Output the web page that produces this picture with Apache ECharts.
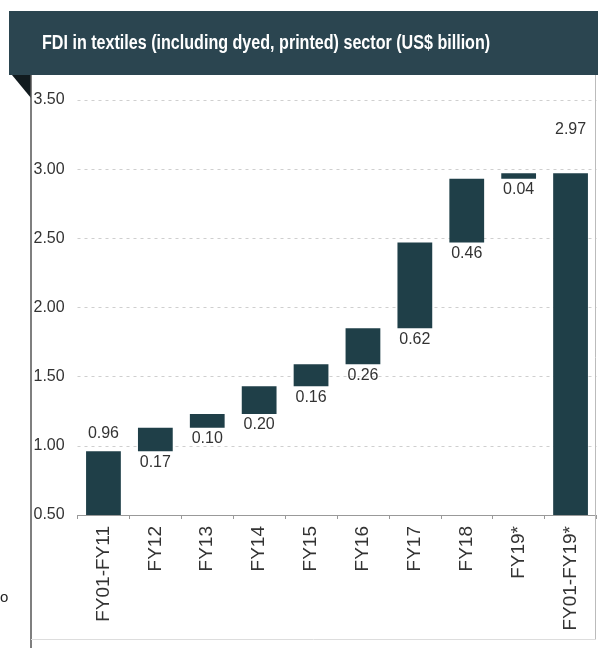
<!DOCTYPE html>
<html>
<head>
<meta charset="utf-8">
<script src="https://cdn.jsdelivr.net/npm/echarts@6/dist/echarts.min.js"></script>
<style>
  html, body { margin: 0; padding: 0; background: #fff; }
  #chart { width: 598px; height: 648px; }
</style>
</head>
<body>
<div id="chart"></div>
<script>
// FDI in textiles, waterfall
var categories = ['FY01-FY11', 'FY12', 'FY13', 'FY14', 'FY15', 'FY16', 'FY17', 'FY18', 'FY19*', 'FY01-FY19*'];
var changes = [0.96, 0.17, 0.10, 0.20, 0.16, 0.26, 0.62, 0.46, 0.04, 2.97];
var isTotal = [true, false, false, false, false, false, false, false, false, true];
var yTicks = [0.5, 1.0, 1.5, 2.0, 2.5, 3.0, 3.5];

var barColor = '#1f3f48';
var font = '"Liberation Sans", Arial';

// running base for the floating bars
var bases = [];
var run = 0;
for (var i = 0; i < changes.length; i++) {
    if (isTotal[i]) {
        bases.push(0);
        run = changes[i];
    } else {
        bases.push(run);
        run = +(run + changes[i]).toFixed(2);
    }
}

var valueData = changes.map(function (v, i) {
    var lbl;
    if (i === 0) {
        lbl = { position: 'top', distance: 10 };
    } else if (i === changes.length - 1) {
        lbl = { position: 'top', distance: 36 };
    } else {
        lbl = { position: 'bottom', distance: 3 };
    }
    return { value: v, label: lbl };
});

var chart = echarts.init(document.getElementById('chart'));
var option = {
    animation: false,
    grid: { left: 77.5, right: 1.5, top: 100, bottom: 133 },
    graphic: [
        { type: 'rect', shape: { x: 9, y: 11, width: 589, height: 64 }, style: { fill: '#2b4550' }, z: 10 },
        { type: 'text', x: 42, y: 43, scaleX: 0.805, z: 11, style: {
            text: 'FDI in textiles (including dyed, printed) sector (US$ billion)',
            fill: '#ffffff', font: 'bold 20px ' + font, textVerticalAlign: 'middle' } },
        { type: 'polygon', shape: { points: [[12, 75], [31, 75], [31, 98]] }, style: { fill: '#111b1f' }, z: 10 },
        { type: 'line', shape: { x1: 31, y1: 75, x2: 31, y2: 648 }, style: { stroke: '#555', lineWidth: 1.5 }, z: 10 },
        { type: 'line', shape: { x1: 595.5, y1: 75, x2: 595.5, y2: 640 }, style: { stroke: '#bbb', lineWidth: 1 }, z: 10 },
        { type: 'line', shape: { x1: 31, y1: 639.5, x2: 596, y2: 639.5 }, style: { stroke: '#ddd', lineWidth: 1 }, z: 10 },
        { type: 'text', x: 0, y: 590, style: { text: 'o', fill: '#222', font: '15px ' + font } }
    ],
    xAxis: {
        type: 'category',
        data: categories,
        axisLine: { lineStyle: { color: '#999', width: 1 } },
        axisTick: { show: true, length: 4, lineStyle: { color: '#999' } },
        axisLabel: {
            rotate: 90, margin: 11, color: '#333', fontSize: 19,
            fontFamily: font, interval: 0
        }
    },
    yAxis: {
        type: 'value',
        min: yTicks[0],
        max: yTicks[yTicks.length - 1],
        interval: 0.5,
        axisLine: { show: false },
        axisTick: { show: false },
        axisLabel: {
            margin: 44, align: 'left', color: '#333', fontSize: 16, fontFamily: font,
            formatter: function (v) { return v.toFixed(2); }
        },
        splitLine: { lineStyle: { color: '#cfcfcf', type: [3, 4], width: 1 } }
    },
    series: [
        {
            type: 'bar', stack: 'w', barWidth: '67%',
            itemStyle: { color: 'transparent' },
            data: bases, silent: true
        },
        {
            type: 'bar', stack: 'w', barWidth: '67%',
            itemStyle: { color: barColor },
            label: {
                show: true, color: '#333', fontSize: 16, fontFamily: font,
                formatter: function (p) { return p.value.toFixed(2); }
            },
            data: valueData
        }
    ]
};
chart.setOption(option);
</script>
</body>
</html>
